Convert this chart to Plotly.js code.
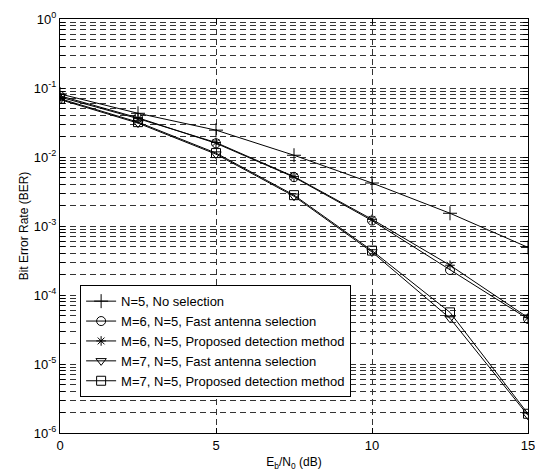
<!DOCTYPE html>
<html>
<head>
<meta charset="utf-8">
<script src="https://cdn.plot.ly/plotly-3.0.1.min.js"></script>
<style>html,body{margin:0;padding:0;background:#fff;}#chart{width:535px;height:476px;}</style>
</head>
<body>
<div id="chart"></div>
<script>
const snr = [0, 2.5, 5, 7.5, 10, 12.5, 15];
const noSelection      = [0.082, 0.043, 0.0245, 0.0106, 0.0042, 0.00153, 0.00049];
const m6Fast           = [0.077, 0.037, 0.0158, 0.0051, 0.00120, 0.00023, 0.000045];
const m6Proposed       = [0.074, 0.036, 0.0162, 0.0052, 0.00125, 0.00027, 0.000047];
const m7Fast           = [0.068, 0.031, 0.0110, 0.0027, 0.00042, 0.000046, 0.0000018];
const m7Proposed       = [0.070, 0.032, 0.0114, 0.0028, 0.00044, 0.000056, 0.0000019];
const seriesNames = [
  "N=5, No selection",
  "M=6, N=5, Fast antenna selection",
  "M=6, N=5, Proposed detection method",
  "M=7, N=5, Fast antenna selection",
  "M=7, N=5, Proposed detection method"
];
const xTicks = [0, 5, 10, 15];
const yMajor = [1e-6, 1e-5, 1e-4, 1e-3, 1e-2, 1e-1, 1];
const yMajorText = ["10<sup>-6</sup>","10<sup>-5</sup>","10<sup>-4</sup>","10<sup>-3</sup>","10<sup>-2</sup>","10<sup>-1</sup>","10<sup>0</sup>"];

const symbols = ["cross-thin-open", "circle-open", "asterisk-open", "triangle-down-open", "square-open"];
const sizes = [10, 9, 8, 9, 9];
const data = [noSelection, m6Fast, m6Proposed, m7Fast, m7Proposed];

const traces = data.map((ys, i) => ({
  x: snr, y: ys, name: seriesNames[i], type: "scatter", mode: "lines+markers",
  line: {color: "#000", width: 1},
  marker: {symbol: symbols[i], size: sizes[i], color: "#000", line: {color: "#000", width: 1}}
}));

// build y tick positions (majors + 2..9 minors) from the major list
const yVals = [], yText = [];
yMajor.forEach((m, k) => {
  yVals.push(m); yText.push(yMajorText[k]);
  if (k < yMajor.length - 1) {
    for (let j = 2; j <= 9; j++) { yVals.push(m * j); yText.push(""); }
  }
});

const font = {family: "Arial, 'Liberation Sans', sans-serif", size: 12, color: "#000"};

const layout = {
  width: 535, height: 476,
  margin: {l: 60, r: 7, t: 19, b: 43},
  paper_bgcolor: "#fff", plot_bgcolor: "#fff",
  font: font,
  showlegend: true,
  legend: {
    x: 0.043, y: 0.357, xanchor: "left", yanchor: "top",
    bgcolor: "#fff", bordercolor: "#000", borderwidth: 1,
    font: {family: font.family, size: 13, color: "#000"},
    tracegroupgap: 0
  },
  xaxis: {
    range: [0, 15], tickvals: xTicks, ticktext: xTicks.map(String),
    showline: true, linecolor: "#000", linewidth: 1, mirror: "ticks",
    ticks: "inside", ticklen: 5, tickcolor: "#000",
    showgrid: true, gridcolor: "#333", gridwidth: 1, griddash: "6px,4px",
    zeroline: false, ticklabeloverflow: "allow",
    tickfont: {family: font.family, size: 13, color: "#000"},
    title: {text: "E<sub>b</sub>/N<sub>0</sub> (dB)", font: {family: font.family, size: 12, color: "#000"}, standoff: 6}
  },
  yaxis: {
    type: "log", range: [-6, 0], tickvals: yVals, ticktext: yText,
    showline: true, linecolor: "#000", linewidth: 1, mirror: "ticks",
    ticks: "inside", ticklen: 5, tickcolor: "#000",
    showgrid: true, gridcolor: "#333", gridwidth: 1, griddash: "6px,4px",
    zeroline: false, ticklabeloverflow: "allow",
    tickfont: {family: font.family, size: 13, color: "#000"},
    title: {text: "Bit Error Rate (BER)", font: {family: font.family, size: 12, color: "#000"}, standoff: 2}
  }
};

Plotly.newPlot("chart", traces, layout, {displayModeBar: false, staticPlot: true});
</script>
</body>
</html>
